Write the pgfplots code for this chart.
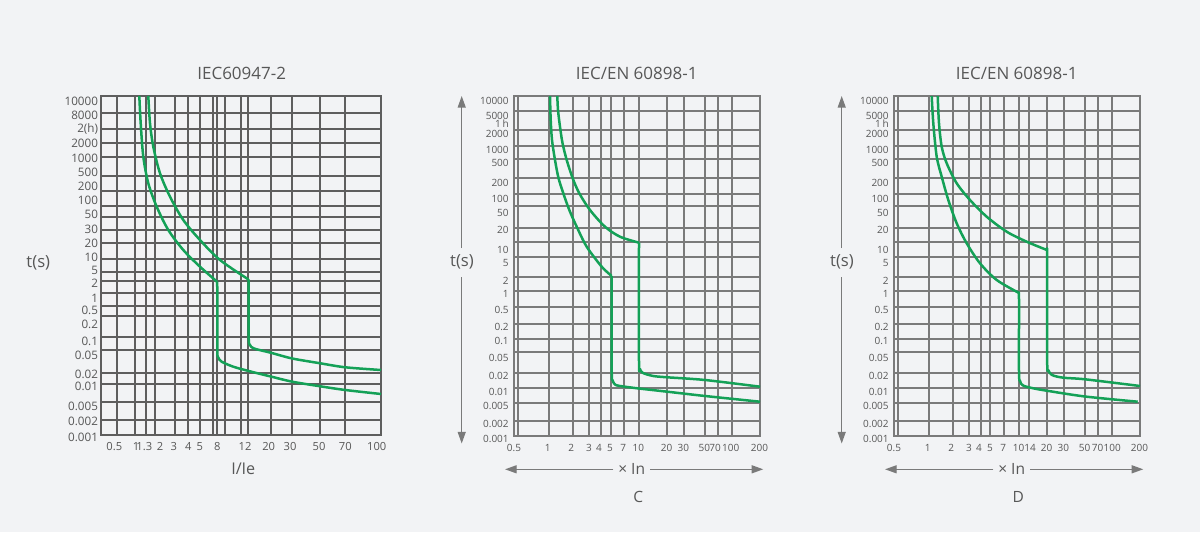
\documentclass[border=0pt]{standalone}
\usepackage{fontspec}
\setmainfont{Open Sans}
\usepackage{pgfplots}
\pgfplotsset{compat=1.18}
\usetikzlibrary{arrows.meta}
\definecolor{bg}{HTML}{F2F3F5}
\definecolor{gridA}{HTML}{5E5E5E}
\definecolor{gridB}{HTML}{7A7A7A}
\definecolor{curve}{HTML}{14A157}
\definecolor{txt}{HTML}{575757}
\pgfplotsset{
  panel/.style={
    scale only axis, anchor=center,
    xmajorgrids=false, ymajorgrids=false,
    xminorgrids=true, yminorgrids=true,
    major tick length=0pt, minor tick length=0pt,
    tick style={draw=none},
    tick label style={text=txt, inner sep=0pt, text height=0.72em, text depth=0pt},
    xticklabel style={anchor=center},
    yticklabel style={anchor=east},
    every axis plot/.append style={draw=curve, line width=1.5pt, line join=round, no markers},
  },
}
\begin{document}
\begin{tikzpicture}
\useasboundingbox (0,0) rectangle (720pt,319.2pt);
\fill[bg] (0,0) rectangle (720pt,319.2pt);

% ---------------- Panel 1 ----------------
\begin{axis}[panel,
  at={(144.6pt,159.9pt)}, width=168pt, height=203.4pt,
  xmin=101, xmax=381, ymin=-435, ymax=-96,
  axis line style={draw=gridA, line width=0.8pt},
  minor grid style={draw=gridA, line width=0.8pt},
  xticklabel style={yshift=-5.4pt, font=\fontsize{6.7}{7}\selectfont},
  yticklabel style={xshift=-1.6pt, font=\fontsize{7}{8}\selectfont},
  xtick={114.3,136,144.3,160,173.7,188.3,199.7,217.3,245,268.7,290,319,345.3,376.7},
  xticklabels={0.5,1,1.3,2,3,4,5,8,12,20,30,50,70,100},
  minor xtick={117,135,146,155,175,188,200,213,217,225,241,248,271,292,320,345},
  ytick={-99.3,-113.7,-127,-142,-156.3,-170.7,-184.7,-198.7,-212.7,-227,-241.3,-255,-268,-281,-296.3,-308,-322,-339,-353.3,-372,-384.3,-404,-419.3,-435},
  yticklabels={10000,8000,2(h),2000,1000,500,200,100,50,30,20,10,5,2,1,0.5,0.2,0.1,0.05,0.02,0.01,0.005,0.002,0.001},
  minor ytick={-113,-129,-143,-157,-176,-191,-206,-217,-230,-243,-259,-272,-281,-293,-306,-316,-337,-350,-373,-384,-402,-420},
]
\addplot[smooth] coordinates {(139.3,-96) (140.7,-123.3) (143.3,-156.7) (148.3,-183.3) (156.7,-206.7) (168.3,-230) (183.3,-250) (200,-266.7) (216.8,-281.5)};
\addplot[smooth] coordinates {(216.8,-281.5) (217.3,-290) (217.3,-350) (218.3,-357.5) (221.7,-361.7) (233.3,-366.7) (248.7,-371) (270.7,-376.5) (292.3,-381.7) (320.3,-386.3) (345.3,-390) (381,-394)};
\addplot[smooth] coordinates {(148.3,-96) (150,-123.3) (153.3,-146.7) (160,-173.3) (170,-196.7) (183.3,-220) (200,-240) (220,-260) (248.5,-279.5)};
\addplot[smooth] coordinates {(248.5,-279.5) (248.7,-290) (248.7,-338) (250,-345) (254,-348.5) (270.7,-352.7) (292.3,-358.5) (320.3,-363.3) (345.3,-367.3) (381,-370)};
\end{axis}

% ---------------- Panel 2 ----------------
\begin{axis}[panel,
  at={(382.2pt,159.6pt)}, width=147.6pt, height=204pt,
  xmin=514, xmax=760, ymin=-436, ymax=-96,
  axis line style={draw=gridB, line width=0.75pt},
  minor grid style={draw=gridB, line width=0.7pt},
  tick label style={font=\fontsize{6.0}{7}\selectfont},
  xticklabel style={yshift=-5.8pt},
  yticklabel style={xshift=-3pt},
  xtick={514,547.7,571.3,589,599,610,623.3,638.3,666.7,683.3,704.3,715,730.7,759.5},
  xticklabels={0.5,1,2,3,4,5,7,10,20,30,50,70,100,200},
  minor xtick={518,549,573,589,601,611,624,639,667,684,705,718,732},
  ytick={-98,-113,-121.7,-131.3,-147,-160.7,-180.3,-196,-210.3,-227.7,-247,-260.3,-278.7,-291,-307.7,-324.3,-338.7,-355.3,-373.3,-389,-403.7,-421.3,-436},
  yticklabels={10000,5000,1\,h,2000,1000,500,200,100,50,20,10,5,2,1,0.5,0.2,0.1,0.05,0.02,0.01,0.005,0.002,0.001},
  minor ytick={-111,-130,-146,-159,-178,-194,-206,-228,-242,-257,-277,-291,-307,-324,-339,-352,-373,-388,-403,-421},
]
\addplot[smooth] coordinates {(550,-96) (550.7,-120) (552,-140) (555,-160) (558.5,-178) (563.3,-193.3) (569.3,-210) (576.7,-226.7) (586.7,-246.7) (601.7,-266.7) (611.7,-276)};
\addplot[smooth] coordinates {(611.7,-276) (611.7,-370) (612.5,-380) (615,-384.5) (620,-386) (639,-388.5) (667.3,-391.7) (705,-396) (760,-401.7)};
\addplot[smooth] coordinates {(557.3,-96) (558,-110) (560,-126.7) (562.5,-143) (566.7,-160) (572.7,-178.3) (579.3,-193.3) (590,-210) (605,-226.7) (620,-236.7) (639,-242.7)};
\addplot[smooth] coordinates {(639,-242.7) (639,-362) (640,-369) (643,-373) (653.3,-376) (667.3,-377.3) (705,-380) (760,-386.7)};
\end{axis}

% ---------------- Panel 3 ----------------
\begin{axis}[panel,
  at={(610.2pt,159.6pt)}, width=147.6pt, height=204pt,
  xmin=894, xmax=1140, ymin=-436, ymax=-96,
  axis line style={draw=gridB, line width=0.75pt},
  minor grid style={draw=gridB, line width=0.7pt},
  tick label style={font=\fontsize{6.0}{7}\selectfont},
  xticklabel style={yshift=-5.8pt},
  yticklabel style={xshift=-3pt},
  xtick={894,927.7,951.3,969,979,990,1003.3,1018.7,1030,1046.7,1063.3,1084.7,1097.7,1112.3,1139.5},
  xticklabels={0.5,1,2,3,4,5,7,10,14,20,30,50,70,100,200},
  minor xtick={898,929,953,969,981,990,1004,1019,1029,1047,1064,1085,1098,1112},
  ytick={-98,-113,-121.7,-131.3,-147,-160.7,-180.3,-196,-210.3,-227.7,-247,-260.3,-278.7,-291,-307.7,-324.3,-338.7,-355.3,-373.3,-389,-403.7,-421.3,-436},
  yticklabels={10000,5000,1\,h,2000,1000,500,200,100,50,20,10,5,2,1,0.5,0.2,0.1,0.05,0.02,0.01,0.005,0.002,0.001},
  minor ytick={-111,-130,-146,-159,-178,-194,-206,-228,-242,-257,-277,-291,-307,-324,-339,-352,-373,-388,-403,-421},
]
\addplot[smooth] coordinates {(931.7,-96) (933.3,-123.3) (936.7,-156.7) (941.7,-176.7) (948.3,-200) (956.7,-223.3) (966.7,-243.3) (980,-263.3) (996.7,-280) (1018.5,-292.7)};
\addplot[smooth] coordinates {(1018.5,-292.7) (1019,-300) (1019,-372) (1020,-381) (1023,-385.5) (1033.3,-388.3) (1046.7,-390.7) (1085,-396.5) (1137.7,-401.7)};
\addplot[smooth] coordinates {(937.7,-96) (939,-123.3) (941.7,-146.7) (946.7,-163.3) (956.7,-183.3) (970,-200) (986.7,-216.7) (1006.7,-231.7) (1026.7,-241.7) (1046.9,-250)};
\addplot[smooth] coordinates {(1046.9,-250) (1047.2,-258) (1047.2,-362) (1048.3,-370) (1052,-375) (1063.3,-377.7) (1085,-379.3) (1140,-386)};
\end{axis}

% ---------------- annotations (pixel coordinates, y down) ----------------
\begin{scope}[x=0.6pt, y=-0.6pt, shift={(0pt,319.2pt)}, text=txt]
\node[font=\fontsize{10.2}{12}\selectfont] at (241.7,73) {IEC60947-2};
\node[font=\fontsize{10.2}{12}\selectfont] at (636.7,73) {IEC/EN 60898-1};
\node[font=\fontsize{10.2}{12}\selectfont] at (1016.7,73) {IEC/EN 60898-1};
\node[font=\fontsize{10}{12}\selectfont] at (38.3,263) {t(s)};
\node[font=\fontsize{10}{12}\selectfont] at (462,262) {t(s)};
\node[font=\fontsize{10}{12}\selectfont] at (842,262) {t(s)};
\node[font=\fontsize{9.7}{12}\selectfont] at (243.3,469.3) {I/Ie};
\node[font=\fontsize{9.3}{12}\selectfont] at (631.7,469.3) {× In};
\node[font=\fontsize{9.3}{12}\selectfont] at (1011.7,469.3) {× In};
\node[font=\fontsize{9.3}{12}\selectfont] at (638.3,497.3) {C};
\node[font=\fontsize{9.3}{12}\selectfont] at (1018.3,497.3) {D};
\begin{scope}[draw=gridB, line width=0.8pt, -{Triangle[length=7pt,width=4.8pt]}]
\draw (461.7,248) -- (461.7,96);
\draw (461.7,277) -- (461.7,443.5);
\draw (613.3,469.3) -- (505,469.3);
\draw (650,469.3) -- (763.3,469.3);
\draw (841.7,248) -- (841.7,96);
\draw (841.7,277) -- (841.7,443.5);
\draw (993.3,469.3) -- (885,469.3);
\draw (1030,469.3) -- (1143.3,469.3);
\end{scope}
\end{scope}
\end{tikzpicture}
\end{document}
